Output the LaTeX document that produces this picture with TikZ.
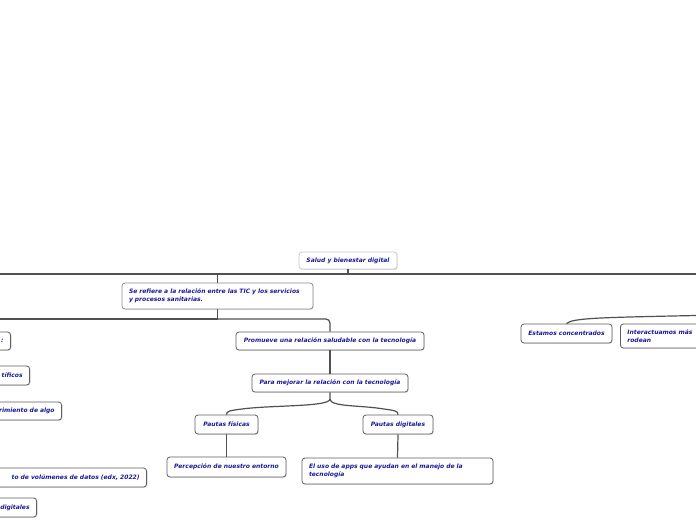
\documentclass[tikz,border=0pt]{standalone}
\usepackage{fontspec}
\setmainfont{DejaVu Sans}
\usepackage{xcolor}
\usepackage{tikz}
\usetikzlibrary{arrows.meta,shadows}
\definecolor{ink}{RGB}{26,26,150}
\definecolor{wire}{RGB}{78,82,82}
\definecolor{rim}{RGB}{95,95,95}

\begin{document}
\begin{tikzpicture}[x=1pt,y=-1pt,
    idea/.style={draw=rim,line width=0.8pt,rounded corners=3pt,fill=white,text=ink,
      font=\fontsize{6}{8}\selectfont\bfseries\itshape,inner xsep=7pt,inner ysep=2pt,
      drop shadow={shadow xshift=0.7pt,shadow yshift=-0.9pt,opacity=0.25}},
    twoline/.style={idea,align=left,text width=#1},
    cutleft/.style={idea,anchor=east,align=right,text width=170pt},
    link/.style={draw=wire,line width=1.2pt}]
  \clip (0,0) rectangle (696,520);
  \fill[white] (0,0) rectangle (696,520);

  \coordinate (busAl) at (0,274);
  \coordinate (busAr) at (696,274);
  \coordinate (busBl) at (0,319);
  \coordinate (farR) at (696,315.5);

  \draw[link] (busAl) -- (busAr);
  \draw[link] (busBl) -- (217.5,319);

  \node[idea,draw=black!22,minimum width=98pt,minimum height=17pt] (root) at (348,260.5) {Salud y bienestar digital};
  \node[twoline=177pt,draw=black!45,minimum height=26pt] (refiere) at (217.5,296) {Se refiere a la relación entre las TIC y los servicios\\y procesos sanitarias.};
  \node[idea,minimum width=188pt,minimum height=18pt] (promueve) at (330,341) {Promueve una relación saludable con la tecnología};
  \node[idea,minimum width=156pt,minimum height=18pt] (mejorar) at (330,383) {Para mejorar la relación con la tecnología};
  \node[idea,minimum width=63pt,minimum height=19pt] (fisicas) at (226.5,424.5) {Pautas físicas};
  \node[idea,minimum width=70pt,minimum height=19pt] (digitales) at (398,424.5) {Pautas digitales};
  \node[idea,minimum width=119pt,minimum height=20pt] (entorno) at (226.5,467) {Percepción de nuestro entorno};
  \node[twoline=177pt,minimum height=26pt] (apps) at (397.5,471) {El uso de apps que ayudan en el manejo de la\\tecnología};
  \node[idea,minimum width=91pt,minimum height=19pt] (estamos) at (566.5,333.5) {Estamos concentrados};
  \node[twoline=110pt,anchor=west,minimum height=24pt] (interact) at (620,336) {Interactuamos más\\rodean};

  \node[cutleft,minimum height=18pt] (dos) at (11,341) {:};
  \node[cutleft,minimum height=19pt] (cientificos) at (30,375.5) {tíficos};
  \node[cutleft,minimum height=18pt] (algo) at (62,411) {rimiento de algo};
  \node[cutleft,minimum height=19pt] (datos) at (147,477.5) {to de volúmenes de datos (edx, 2022)};
  \node[cutleft,minimum height=19pt] (digit) at (37,507.5) {digitales};

  \draw[link] (root.south) -- (root.south |- busAl);
  \draw[link] (refiere.north |- busAl) -- (refiere.north);
  \draw[link] (refiere.south) -- (refiere.south |- busBl);
  \draw[link,rounded corners=4pt] (refiere.south |- busBl) -| (promueve.north);
  \draw[link] (promueve.south) -- (mejorar.north);
  \draw[link] (mejorar.south) -- (330,399) .. controls (330,407) and (272,405) .. (242,409) .. controls (230,410.5) and (226.5,411) .. (fisicas.north);
  \draw[link] (330,399) .. controls (330,407) and (360,405) .. (384,409) .. controls (395,410.5) and (398,411) .. (digitales.north);
  \draw[link] (fisicas.south) -- (entorno.north);
  \draw[link] (digitales.south) -- (apps.north);
  \draw[link] (estamos.north) .. controls (572,318) and (600,317.5) .. (farR);
\end{tikzpicture}
\end{document}
